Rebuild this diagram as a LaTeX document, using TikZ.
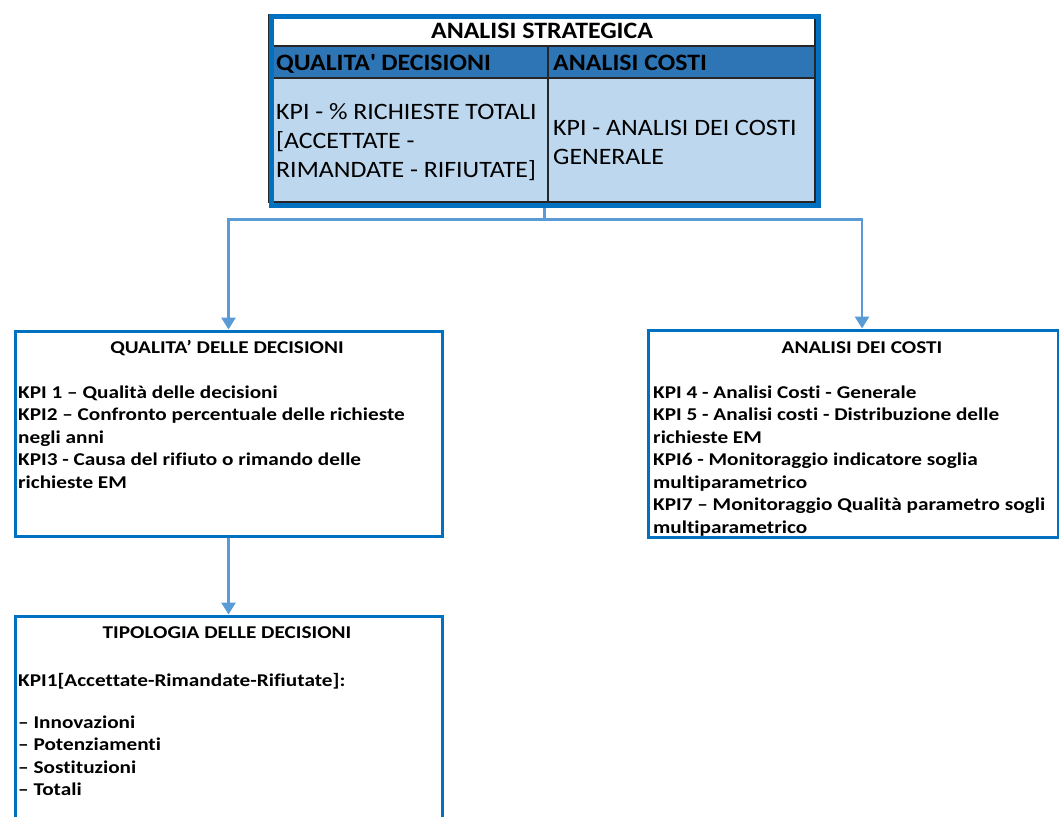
\documentclass[tikz,border=0pt]{standalone}
\usepackage{fontspec}
\setmainfont{Carlito}
\newfontfamily\tabfont[FakeStretch=1.1,Ligatures=NoCommon]{Carlito}
\newfontfamily\kpifont[FakeStretch=1.18,Ligatures=NoCommon]{Carlito}
\usetikzlibrary{arrows.meta}
\definecolor{frameblue}{HTML}{0070C0}
\definecolor{headblue}{HTML}{2E75B6}
\definecolor{cellblue}{HTML}{BDD7EE}
\definecolor{linkblue}{HTML}{5B9BD5}

\begin{document}
\begin{tikzpicture}[x=1pt,y=-1pt,
  cell/.style={draw=black!85, line width=1.4pt, inner sep=0pt, outer sep=0pt, anchor=north west},
  frame/.style={draw=frameblue, line width=5pt, inner sep=0pt, anchor=north west},
  kpibox/.style={draw=frameblue, line width=3pt, fill=white, inner sep=0pt, anchor=north west},
  link/.style={draw=linkblue, line width=2.8pt},
  tip/.style={-{Triangle[width=14pt,length=12pt]}},
  tabtitle/.style={font=\tabfont\bfseries\fontsize{23.5}{29}\selectfont, anchor=base, inner sep=0pt},
  tabhead/.style={font=\tabfont\bfseries\fontsize{23.5}{29}\selectfont, anchor=base west, inner sep=0pt},
  tabtext/.style={font=\tabfont\fontsize{23.5}{29}\selectfont, align=left, anchor=base west, inner sep=0pt},
  lowtitle/.style={font=\kpifont\bfseries\fontsize{18}{22.5}\selectfont, anchor=base, inner sep=0pt},
  lowtext/.style={font=\kpifont\bfseries\fontsize{18}{22.5}\selectfont, align=left, anchor=base west, inner sep=0pt}]

\useasboundingbox (0,0) rectangle (1059,816);
\clip (0,0) rectangle (1059,816);

% strategic analysis table (cell edges run under the frame)
\node[cell, fill=white, minimum width=546pt, minimum height=31pt] (titlecell) at (269,15) {};
\node[cell, fill=headblue, minimum width=279pt, minimum height=32pt] (headL) at (269,46) {};
\node[cell, fill=headblue, minimum width=267pt, minimum height=32pt] (headR) at (548,46) {};
\node[cell, fill=cellblue, minimum width=279pt, minimum height=124pt] (bodyL) at (269,78) {};
\node[cell, fill=cellblue, minimum width=267pt, minimum height=124pt] (bodyR) at (548,78) {};
\node[frame, minimum width=547pt, minimum height=188pt] (strat) at (268.5,14.5) {};

% multi-line texts are placed by the baseline of their last line
\node[tabtitle] (stratT) at (542,38.5) {ANALISI STRATEGICA};
\node[tabhead] (headLT) at (276,70.5) {QUALITA\textquotesingle{} DECISIONI};
\node[tabhead] (headRT) at (553,70.5) {ANALISI COSTI};
\node[tabtext] (bodyLT) at (276,177.5) {KPI - \% RICHIESTE TOTALI\\{[}ACCETTATE -\\RIMANDATE - RIFIUTATE{]}};
\node[tabtext] (bodyRT) at (553,164.5) {KPI - ANALISI DEI COSTI\\GENERALE};

% KPI boxes
\node[kpibox, minimum width=427pt, minimum height=205pt] (qual) at (13.5,329.5) {};
\node[kpibox, minimum width=410pt, minimum height=207pt] (costi) at (646.5,328.5) {};
\node[kpibox, minimum width=427pt, minimum height=250pt] (tipo) at (13.5,614.5) {};

\node[lowtitle] (qualT) at (227,353) {QUALITA’ DELLE DECISIONI};
\node[lowtext] (qualL) at (18,488) {KPI 1 – Qualità delle decisioni\\KPI2 – Confronto percentuale delle richieste\\negli anni\\KPI3 - Causa del rifiuto o rimando delle\\richieste EM};

\node[lowtitle] (costiT) at (862,353) {ANALISI DEI COSTI};
\node[lowtext] (costiL) at (653,533) {KPI 4 - Analisi Costi - Generale\\KPI 5 - Analisi costi - Distribuzione delle\\richieste EM\\KPI6 - Monitoraggio indicatore soglia\\multiparametrico\\KPI7 – Monitoraggio Qualità parametro sogli\\multiparametrico};

\node[lowtitle] (tipoT) at (227,638) {TIPOLOGIA DELLE DECISIONI};
\node[lowtext] (tipoK) at (18,686) {KPI1{[}Accettate-Rimandate-Rifiutate{]}:};
\node[lowtext] (tipoL) at (18,795.5) {– Innovazioni\\– Potenziamenti\\– Sostituzioni\\– Totali};

% connectors
\draw[link] (strat.south) -- ++(0,12) coordinate (split);
\draw[link, tip] (split) -| (qual.north);
\draw[link, tip] (split) -| ([xshift=9pt]costi.north);
\draw[link, tip] (qual.south) -- (tipo.north);
\end{tikzpicture}
\end{document}
